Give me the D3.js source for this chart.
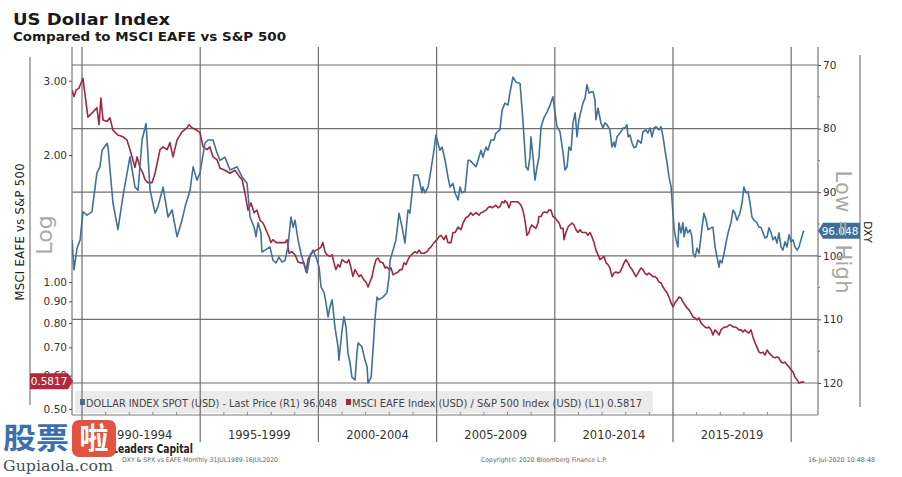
<!DOCTYPE html>
<html><head><meta charset="utf-8">
<script src="https://cdn.jsdelivr.net/npm/d3@7"></script>
<style>body{margin:0;background:#fff;} svg{display:block;}</style>
</head><body><svg id="c" width="902" height="477"></svg>
<script>
// ---- DATA (decimal year, value) ----
const dxySeries = [[1989.58,97.5],[1989.66,102.2],[1989.79,98.8],[1989.92,97.5],[1990.04,93.1],[1990.21,93.6],[1990.42,93.1],[1990.63,87.0],[1990.76,86.0],[1990.85,83.4],[1991.06,82.3],[1991.10,82.9],[1991.31,91.7],[1991.52,95.9],[1991.73,90.7],[1992.03,84.4],[1992.24,89.2],[1992.37,89.7],[1992.54,81.8],[1992.71,79.2],[1992.88,89.7],[1993.09,93.3],[1993.21,92.3],[1993.43,89.2],[1993.64,93.9],[1993.81,92.8],[1994.02,97.0],[1994.23,94.4],[1994.36,92.3],[1994.57,89.7],[1994.70,86.0],[1994.86,88.1],[1994.99,87.0],[1995.20,82.3],[1995.33,81.8],[1995.54,81.8],[1995.71,83.8],[1995.84,85.0],[1996.05,84.5],[1996.26,86.5],[1996.56,86.0],[1996.77,87.6],[1996.98,88.6],[1997.11,93.9],[1997.28,95.5],[1997.36,97.0],[1997.45,94.8],[1997.57,96.4],[1997.61,99.4],[1997.74,99.1],[1997.95,98.6],[1998.08,100.7],[1998.21,101.1],[1998.33,100.2],[1998.46,101.0],[1998.59,100.7],[1998.71,98.6],[1998.84,93.9],[1998.93,95.5],[1999.01,94.4],[1999.14,97.5],[1999.26,99.6],[1999.43,101.8],[1999.52,102.7],[1999.64,100.2],[1999.77,99.1],[1999.90,100.2],[2000.03,101.8],[2000.11,104.9],[2000.24,105.8],[2000.32,107.4],[2000.41,109.6],[2000.49,108.0],[2000.58,106.9],[2000.70,111.2],[2000.83,114.3],[2000.87,116.4],[2001.00,111.7],[2001.08,109.6],[2001.17,111.2],[2001.25,115.3],[2001.34,116.9],[2001.42,119.1],[2001.55,119.5],[2001.63,115.3],[2001.68,113.7],[2001.84,114.3],[2001.97,116.4],[2002.06,117.5],[2002.10,120.0],[2002.23,119.1],[2002.31,114.8],[2002.39,110.1],[2002.48,106.5],[2002.56,106.9],[2002.73,106.5],[2002.90,105.8],[2002.99,103.3],[2003.03,100.7],[2003.16,99.1],[2003.28,97.5],[2003.41,93.3],[2003.54,95.5],[2003.66,98.0],[2003.79,92.8],[2003.87,93.3],[2003.96,90.1],[2004.04,87.3],[2004.21,87.3],[2004.30,88.6],[2004.38,90.1],[2004.42,89.2],[2004.51,90.1],[2004.64,89.2],[2004.76,86.5],[2004.89,83.4],[2004.97,81.0],[2005.06,82.3],[2005.14,83.4],[2005.23,82.9],[2005.36,85.0],[2005.48,87.6],[2005.57,89.2],[2005.69,88.6],[2005.78,90.1],[2005.91,91.2],[2005.99,89.2],[2006.07,90.1],[2006.20,89.9],[2006.33,85.0],[2006.41,85.0],[2006.54,85.5],[2006.67,86.0],[2006.75,85.0],[2006.88,83.4],[2006.96,84.5],[2007.09,82.9],[2007.17,83.4],[2007.30,81.8],[2007.43,81.8],[2007.51,80.7],[2007.68,80.2],[2007.77,77.1],[2007.89,76.0],[2008.02,76.3],[2008.10,74.4],[2008.23,71.9],[2008.36,72.7],[2008.53,72.9],[2008.65,78.6],[2008.78,86.0],[2008.87,86.5],[2008.95,84.5],[2008.99,81.3],[2009.08,84.5],[2009.16,88.1],[2009.25,86.0],[2009.33,84.5],[2009.42,79.7],[2009.54,78.3],[2009.67,77.4],[2009.80,76.3],[2009.92,75.0],[2010.01,77.5],[2010.09,79.7],[2010.22,80.5],[2010.35,83.8],[2010.43,86.5],[2010.52,86.0],[2010.60,82.9],[2010.69,83.4],[2010.77,79.1],[2010.86,77.5],[2010.94,81.3],[2011.02,78.6],[2011.19,76.0],[2011.28,75.2],[2011.36,73.1],[2011.45,74.4],[2011.57,74.2],[2011.62,74.2],[2011.70,75.5],[2011.74,78.6],[2011.83,76.8],[2011.95,79.1],[2012.04,79.9],[2012.12,79.1],[2012.21,79.4],[2012.33,80.2],[2012.42,82.9],[2012.50,82.1],[2012.55,82.9],[2012.63,81.3],[2012.76,80.7],[2012.89,79.9],[2012.97,79.9],[2013.05,79.4],[2013.10,81.3],[2013.18,81.0],[2013.27,82.3],[2013.35,83.0],[2013.43,82.9],[2013.52,81.8],[2013.65,82.3],[2013.73,80.5],[2013.86,80.2],[2013.94,80.7],[2014.03,79.9],[2014.11,81.3],[2014.20,79.9],[2014.28,79.7],[2014.41,80.2],[2014.49,79.7],[2014.58,81.3],[2014.66,83.4],[2014.75,85.4],[2014.83,87.6],[2014.92,89.2],[2015.00,93.3],[2015.05,95.9],[2015.13,97.5],[2015.21,98.6],[2015.25,94.8],[2015.34,96.4],[2015.42,94.8],[2015.47,97.0],[2015.55,95.5],[2015.63,96.4],[2015.72,95.9],[2015.80,97.0],[2015.85,99.6],[2015.93,100.2],[2016.02,98.8],[2016.10,99.6],[2016.23,95.5],[2016.31,93.3],[2016.40,94.4],[2016.48,95.9],[2016.61,95.6],[2016.69,95.5],[2016.78,98.6],[2016.86,100.2],[2016.95,101.8],[2016.99,100.7],[2017.07,101.1],[2017.16,99.6],[2017.24,98.0],[2017.33,96.4],[2017.45,94.8],[2017.54,92.8],[2017.62,93.3],[2017.71,94.4],[2017.83,93.3],[2017.92,91.7],[2018.00,89.2],[2018.09,90.1],[2018.17,89.9],[2018.26,91.7],[2018.34,93.9],[2018.43,94.4],[2018.55,94.8],[2018.64,95.5],[2018.72,95.5],[2018.81,96.4],[2018.89,97.2],[2018.98,97.0],[2019.06,95.6],[2019.15,96.4],[2019.23,97.5],[2019.32,97.0],[2019.40,98.0],[2019.48,96.4],[2019.57,98.6],[2019.65,99.1],[2019.74,97.8],[2019.82,98.6],[2019.91,96.7],[2019.99,97.8],[2020.08,97.5],[2020.16,98.6],[2020.25,99.1],[2020.33,98.6],[2020.41,97.5],[2020.50,96.4],[2020.54,96.05]];

const ratioSeries = [[1989.58,2.85],[1989.66,2.75],[1989.75,2.85],[1989.87,2.88],[1990.04,3.04],[1990.25,2.46],[1990.47,2.53],[1990.63,2.59],[1990.72,2.36],[1990.80,2.73],[1990.89,2.42],[1991.06,2.40],[1991.18,2.45],[1991.31,2.29],[1991.52,2.23],[1991.73,2.21],[1991.90,2.17],[1992.03,2.06],[1992.24,1.87],[1992.33,1.98],[1992.45,1.87],[1992.58,1.81],[1992.66,1.75],[1992.79,1.72],[1992.96,1.72],[1993.09,1.81],[1993.30,2.06],[1993.43,2.09],[1993.60,2.06],[1993.72,2.14],[1993.85,1.98],[1994.02,2.17],[1994.23,2.27],[1994.44,2.32],[1994.53,2.36],[1994.65,2.32],[1994.86,2.29],[1994.99,2.26],[1995.12,2.09],[1995.29,2.06],[1995.41,2.09],[1995.54,1.98],[1995.71,1.95],[1995.84,1.86],[1996.05,1.84],[1996.26,1.81],[1996.47,1.84],[1996.68,1.77],[1996.77,1.75],[1996.89,1.63],[1997.02,1.48],[1997.15,1.54],[1997.28,1.46],[1997.40,1.48],[1997.53,1.40],[1997.66,1.38],[1997.78,1.33],[1997.91,1.28],[1997.99,1.24],[1998.08,1.26],[1998.21,1.24],[1998.33,1.24],[1998.46,1.24],[1998.59,1.24],[1998.67,1.26],[1998.76,1.17],[1998.88,1.18],[1999.01,1.16],[1999.14,1.115],[1999.26,1.11],[1999.39,1.11],[1999.48,1.056],[1999.56,1.13],[1999.69,1.17],[1999.81,1.18],[1999.90,1.19],[2000.03,1.20],[2000.11,1.21],[2000.19,1.24],[2000.28,1.18],[2000.36,1.16],[2000.49,1.15],[2000.58,1.16],[2000.66,1.11],[2000.74,1.07],[2000.83,1.10],[2000.91,1.085],[2001.00,1.13],[2001.13,1.115],[2001.21,1.11],[2001.29,1.13],[2001.38,1.08],[2001.46,1.03],[2001.55,1.07],[2001.63,1.05],[2001.72,1.03],[2001.80,1.04],[2001.93,1.01],[2002.01,1.00],[2002.10,0.973],[2002.18,1.00],[2002.27,1.03],[2002.35,1.085],[2002.44,1.13],[2002.52,1.14],[2002.61,1.115],[2002.73,1.11],[2002.82,1.08],[2002.90,1.085],[2002.99,1.07],[2003.07,1.08],[2003.16,1.04],[2003.28,1.05],[2003.37,1.056],[2003.45,1.07],[2003.54,1.07],[2003.62,1.11],[2003.71,1.10],[2003.79,1.13],[2003.87,1.15],[2004.00,1.17],[2004.09,1.18],[2004.17,1.17],[2004.26,1.19],[2004.34,1.17],[2004.47,1.17],[2004.59,1.18],[2004.68,1.20],[2004.76,1.21],[2004.89,1.24],[2005.02,1.26],[2005.10,1.28],[2005.19,1.29],[2005.31,1.26],[2005.40,1.29],[2005.48,1.24],[2005.61,1.24],[2005.69,1.31],[2005.78,1.31],[2005.91,1.35],[2006.03,1.33],[2006.12,1.38],[2006.24,1.42],[2006.33,1.43],[2006.45,1.46],[2006.54,1.44],[2006.67,1.46],[2006.79,1.44],[2006.88,1.46],[2006.96,1.465],[2007.09,1.48],[2007.17,1.50],[2007.26,1.51],[2007.34,1.50],[2007.43,1.51],[2007.51,1.52],[2007.60,1.50],[2007.68,1.51],[2007.77,1.55],[2007.85,1.54],[2007.89,1.56],[2007.98,1.54],[2008.06,1.50],[2008.15,1.55],[2008.27,1.55],[2008.40,1.55],[2008.49,1.54],[2008.57,1.52],[2008.65,1.48],[2008.74,1.40],[2008.82,1.29],[2008.91,1.31],[2008.95,1.34],[2009.03,1.365],[2009.12,1.35],[2009.20,1.34],[2009.29,1.38],[2009.33,1.43],[2009.42,1.43],[2009.50,1.46],[2009.58,1.465],[2009.67,1.46],[2009.75,1.48],[2009.84,1.48],[2009.92,1.43],[2010.01,1.42],[2010.09,1.40],[2010.18,1.38],[2010.26,1.34],[2010.35,1.34],[2010.39,1.26],[2010.47,1.31],[2010.56,1.35],[2010.64,1.365],[2010.73,1.38],[2010.81,1.365],[2010.90,1.33],[2010.98,1.31],[2011.07,1.33],[2011.15,1.31],[2011.23,1.31],[2011.32,1.31],[2011.40,1.29],[2011.49,1.31],[2011.57,1.28],[2011.66,1.24],[2011.74,1.19],[2011.83,1.16],[2011.91,1.13],[2012.00,1.14],[2012.08,1.15],[2012.17,1.11],[2012.25,1.10],[2012.33,1.08],[2012.42,1.03],[2012.50,1.05],[2012.59,1.056],[2012.67,1.05],[2012.76,1.056],[2012.84,1.08],[2012.93,1.11],[2013.01,1.13],[2013.10,1.11],[2013.18,1.085],[2013.27,1.07],[2013.35,1.05],[2013.43,1.03],[2013.52,1.05],[2013.60,1.07],[2013.65,1.08],[2013.73,1.07],[2013.81,1.05],[2013.90,1.04],[2013.98,1.05],[2014.07,1.04],[2014.15,1.03],[2014.24,1.03],[2014.32,1.02],[2014.41,1.00],[2014.49,0.995],[2014.58,0.973],[2014.66,0.957],[2014.75,0.942],[2014.83,0.921],[2014.92,0.892],[2015.00,0.873],[2015.08,0.892],[2015.17,0.906],[2015.25,0.921],[2015.34,0.916],[2015.42,0.897],[2015.51,0.882],[2015.59,0.868],[2015.68,0.858],[2015.76,0.844],[2015.85,0.826],[2015.93,0.822],[2016.02,0.813],[2016.10,0.822],[2016.18,0.80],[2016.27,0.791],[2016.35,0.782],[2016.44,0.778],[2016.52,0.782],[2016.61,0.77],[2016.69,0.749],[2016.78,0.77],[2016.86,0.761],[2016.95,0.749],[2017.03,0.77],[2017.11,0.778],[2017.20,0.782],[2017.28,0.782],[2017.37,0.791],[2017.45,0.791],[2017.54,0.782],[2017.62,0.782],[2017.71,0.778],[2017.79,0.77],[2017.88,0.77],[2017.96,0.761],[2018.04,0.77],[2018.13,0.761],[2018.21,0.757],[2018.30,0.77],[2018.38,0.741],[2018.47,0.717],[2018.55,0.701],[2018.64,0.682],[2018.72,0.679],[2018.81,0.682],[2018.89,0.671],[2018.98,0.69],[2019.06,0.679],[2019.15,0.671],[2019.23,0.664],[2019.32,0.661],[2019.40,0.664],[2019.48,0.661],[2019.57,0.646],[2019.65,0.643],[2019.74,0.646],[2019.82,0.636],[2019.91,0.629],[2019.99,0.619],[2020.08,0.612],[2020.16,0.595],[2020.25,0.586],[2020.33,0.576],[2020.41,0.579],[2020.50,0.579],[2020.54,0.5817]];

const periodLabels = ["1990-1994","1995-1999","2000-2004","2005-2009","2010-2014","2015-2019"];
const periodBounds = [1990,1995,2000,2005,2010,2015,2020];
const yearTicks = [1990,1991,1992,1993,1994,1995,1996,1997,1998,1999,2000,2001,2002,2003,2004,2005,2006,2007,2008,2009,2010,2011,2012,2013,2014,2015,2016,2017,2018,2019,2020];
const dxyTicks = [70,80,90,100,110,120];
const dxyMinorTicks = [75,85,95,105,115];
const ratioTicks = [0.5,0.6,0.7,0.8,0.9,1,2,3];
const lastDxy = 96.048, lastRatio = 0.5817;
const legendDxy = "DOLLAR INDEX SPOT (USD) - Last Price (R1) 96.048";
const legendRatio = "MSCI EAFE Index (USD) / S&P 500 Index (USD) (L1) 0.5817";

// ---- LAYOUT ----
const L = 72, R = 818, T = 47, B = 415;
const blue = "#41709a", red = "#a3263f", grid = "#6f6f6f";
const font = "DejaVu Sans, Verdana, sans-serif";

const svg = d3.select("#c");
svg.append("rect").attr("width",902).attr("height",477).attr("fill","#fff");

const x = d3.scaleLinear().domain([1990,2015]).range([82,673]);
const yR = d3.scaleLinear().domain([70,120]).range([65,383]);
const yL = d3.scaleLog().domain([1,2]).range([282,155]);

// legend background (under grid)
svg.append("rect").attr("x",75).attr("y",391).attr("width",578).attr("height",22).attr("fill","#ebebeb");

// horizontal grid
svg.append("g").selectAll("line").data(dxyTicks).join("line")
  .attr("x1",L).attr("x2",R).attr("y1",d=>yR(d)).attr("y2",d=>yR(d))
  .attr("stroke",grid).attr("stroke-width",1.2);
// vertical grid
svg.append("g").selectAll("line").data(periodBounds).join("line")
  .attr("x1",d=>x(d)).attr("x2",d=>x(d)).attr("y1",T).attr("y2",442)
  .attr("stroke",grid).attr("stroke-width",1.2);

// frame lines
const frame = svg.append("g").attr("stroke","#7a7a7a").attr("stroke-width",1.2);
frame.append("line").attr("x1",L).attr("x2",L).attr("y1",T).attr("y2",B);
frame.append("line").attr("x1",R).attr("x2",R).attr("y1",T).attr("y2",B);
frame.append("line").attr("x1",L).attr("x2",R).attr("y1",B).attr("y2",B);
frame.append("line").attr("x1",30).attr("x2",30).attr("y1",57).attr("y2",405);
frame.append("line").attr("x1",860).attr("x2",860).attr("y1",55).attr("y2",407);

// year minor ticks on bottom
svg.append("g").selectAll("line").data(yearTicks).join("line")
  .attr("x1",d=>x(d)).attr("x2",d=>x(d)).attr("y1",B-3).attr("y2",B)
  .attr("stroke","#888").attr("stroke-width",1);

// left axis
const axL = svg.append("g").attr("transform",`translate(${L},0)`)
  .call(d3.axisLeft(yL).tickValues(ratioTicks).tickFormat(d3.format(".2f")).tickSize(3).tickPadding(2));
axL.select(".domain").remove();
axL.selectAll("text").attr("font-family",font).attr("font-size",10.5).attr("fill","#333");
axL.selectAll("line").attr("stroke","#555");

// right axis
const axR = svg.append("g").attr("transform",`translate(${R},0)`)
  .call(d3.axisRight(yR).tickValues(dxyTicks).tickFormat(d3.format("d")).tickSize(3).tickPadding(2));
axR.select(".domain").remove();
axR.selectAll("text").attr("font-family",font).attr("font-size",10.5).attr("fill","#333");
axR.selectAll("line").attr("stroke","#555");
svg.append("g").selectAll("line").data(dxyMinorTicks).join("line")
  .attr("x1",R).attr("x2",R+2).attr("y1",d=>yR(d)).attr("y2",d=>yR(d)).attr("stroke","#777");

// period labels
svg.append("g").selectAll("text").data(periodLabels).join("text")
  .attr("x",(d,i)=>(x(periodBounds[i])+x(periodBounds[i+1]))/2).attr("y",439)
  .attr("text-anchor","middle").attr("font-family",font).attr("font-size",11.5).attr("fill","#333")
  .text(d=>d);

// series lines
svg.append("defs").append("clipPath").attr("id","clip")
  .append("rect").attr("x",L).attr("y",T).attr("width",R-L+4).attr("height",B-T);
const lineR = d3.line().x(d=>x(d[0])).y(d=>yL(d[1]));
const lineD = d3.line().x(d=>x(d[0])).y(d=>yR(d[1]));
const plot = svg.append("g").attr("clip-path","url(#clip)");
plot.append("path").datum(ratioSeries).attr("d",lineR).attr("fill","none")
  .attr("stroke",red).attr("stroke-width",1.6).attr("stroke-linejoin","round");
plot.append("path").datum(dxySeries).attr("d",lineD).attr("fill","none")
  .attr("stroke",blue).attr("stroke-width",1.6).attr("stroke-linejoin","round");

// legend text
svg.append("rect").attr("x",80).attr("y",399).attr("width",5).attr("height",6).attr("fill",blue);
svg.append("text").attr("x",86).attr("y",406.5).attr("font-family",font).attr("font-size",10.5)
  .attr("fill","#444").attr("textLength",251).attr("lengthAdjust","spacingAndGlyphs").text(legendDxy);
svg.append("rect").attr("x",346).attr("y",399).attr("width",5).attr("height",6).attr("fill",red);
svg.append("text").attr("x",352).attr("y",406.5).attr("font-family",font).attr("font-size",10.5)
  .attr("fill","#444").attr("textLength",290).attr("lengthAdjust","spacingAndGlyphs").text(legendRatio);

// last value labels
const yd = yR(lastDxy);
svg.append("path").attr("d",`M${R},${yd} L${R+5},${yd-8} L860,${yd-8} L860,${yd+8} L${R+5},${yd+8} Z`).attr("fill","#3e6f98");
svg.append("text").attr("x",840).attr("y",yd+4).attr("text-anchor","middle").attr("font-family",font)
  .attr("font-size",10.5).attr("fill","#fff").text(d3.format(".3f")(lastDxy));
const yr0 = yL(lastRatio);
svg.append("path").attr("d",`M30,${yr0-8} L68,${yr0-8} L73,${yr0} L68,${yr0+8} L30,${yr0+8} Z`).attr("fill","#b0283c");
svg.append("text").attr("x",49).attr("y",yr0+4).attr("text-anchor","middle").attr("font-family",font)
  .attr("font-size",10.5).attr("fill","#fff").text(d3.format(".4f")(lastRatio));

// titles
svg.append("text").attr("x",13).attr("y",25).attr("font-family",font).attr("font-weight","bold")
  .attr("font-size",16.5).attr("fill","#1a1a1a").attr("textLength",157).attr("lengthAdjust","spacingAndGlyphs").text("US Dollar Index");
svg.append("text").attr("x",13).attr("y",41).attr("font-family",font).attr("font-weight","bold")
  .attr("font-size",12.5).attr("fill","#1a1a1a").attr("textLength",273).attr("lengthAdjust","spacingAndGlyphs").text("Compared to MSCI EAFE vs S&P 500");

// axis titles
svg.append("text").attr("transform","translate(24,232) rotate(-90)").attr("text-anchor","middle")
  .attr("font-family",font).attr("font-size",11.5).attr("fill","#222").attr("textLength",137).text("MSCI EAFE vs S&P 500");
svg.append("text").attr("transform","translate(52,235) rotate(-90)").attr("text-anchor","middle")
  .attr("font-family",font).attr("font-size",22).attr("fill","#a8a8a8").text("Log");
svg.append("text").attr("transform","translate(836,232) rotate(90)").attr("text-anchor","middle")
  .attr("font-family",font).attr("font-size",21).attr("fill","#a8a8a8").attr("textLength",123).text("Low = High");
svg.append("text").attr("transform","translate(864,232) rotate(90)").attr("text-anchor","middle")
  .attr("font-family",font).attr("font-size",10.5).attr("fill","#222").text("DXY");

// credits
svg.append("text").attr("x",112).attr("y",453).attr("font-family",font).attr("font-weight","bold")
  .attr("font-size",12).attr("fill","#222").attr("textLength",81).attr("lengthAdjust","spacingAndGlyphs").text("Leaders Capital");
svg.append("text").attr("x",122).attr("y",462).attr("font-family",font).attr("font-size",6.5)
  .attr("fill","#666").attr("textLength",156).attr("lengthAdjust","spacingAndGlyphs").text("DXY & SPX vs EAFE  Monthly 31JUL1989-16JUL2020");
svg.append("text").attr("x",481).attr("y",462).attr("font-family",font).attr("font-size",6.5)
  .attr("fill","#666").attr("textLength",126).attr("lengthAdjust","spacingAndGlyphs").text("Copyright© 2020 Bloomberg Finance L.P.");
svg.append("text").attr("x",808).attr("y",462).attr("font-family",font).attr("font-size",6.5)
  .attr("fill","#666").attr("textLength",67).attr("lengthAdjust","spacingAndGlyphs").text("16-Jul-2020 10:48:48");

// watermark
const wm = svg.append("g");
wm.append("text").attr("x",3).attr("y",449).attr("font-family","Noto Sans CJK SC").attr("font-weight","bold")
  .attr("font-size",29).attr("fill","#3d6fae").attr("textLength",66).attr("lengthAdjust","spacingAndGlyphs").text("股票");
wm.append("rect").attr("x",72).attr("y",420).attr("width",44).attr("height",37).attr("rx",7).attr("fill","#e2543f");
wm.append("text").attr("x",94).attr("y",449).attr("text-anchor","middle").attr("font-family","Noto Sans CJK SC").attr("font-weight","bold")
  .attr("font-size",29).attr("fill","#fff").text("啦");
wm.append("text").attr("x",3).attr("y",471).attr("font-family","DejaVu Serif, serif").attr("font-size",15)
  .attr("fill","#3f4f60").attr("textLength",110).attr("lengthAdjust","spacingAndGlyphs").text("Gupiaola.com");
</script></body></html>
